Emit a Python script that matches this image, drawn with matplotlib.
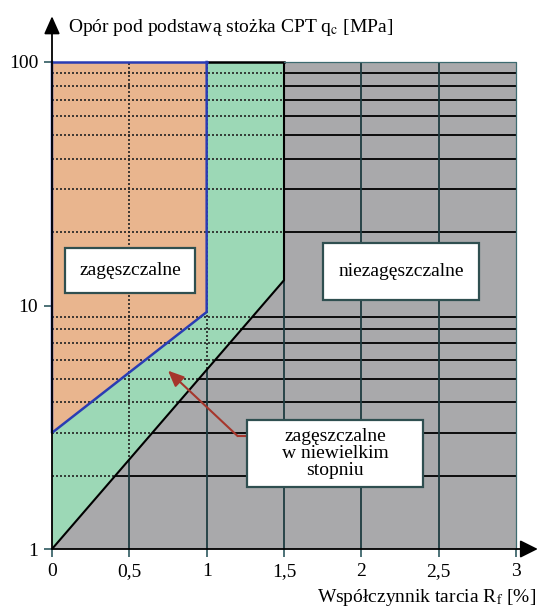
import numpy as np
import matplotlib
matplotlib.use("Agg")
import matplotlib.pyplot as plt
from matplotlib.patches import Polygon, Rectangle

plt.rcParams['font.family'] = ['Liberation Serif', 'DejaVu Serif']
plt.rcParams['mathtext.fontset'] = 'stix'

# axis ticks
rf_ticks = [0, 0.5, 1, 1.5, 2, 2.5, 3]
rf_labels = ['0', '0,5', '1', '1,5', '2', '2,5', '3']
qc_ticks = [1, 10, 100]
qc_labels = ['1', '10', '100']
qc_grid = [2, 3, 4, 5, 6, 7, 8, 9, 20, 30, 40, 50, 60, 70, 80, 90]
rf_grid = [0.5, 1, 1.5, 2, 2.5]

# zone boundaries (Rf [%], qc [MPa])
compact_x = [0, 0, 1, 1]        # upper zone: zagęszczalne
compact_y = [100, 3.0, 9.4, 100]
limit_x = [0, 1.5, 1.5]         # limit of compactable soils
limit_y = [1, 12.7, 100]

# annotation arrow
arrow_tip = (0.75, 5.4)
arrow_tail = (1.20, 2.91)
arrow_end = (1.26, 2.91)

fig = plt.figure(figsize=(5.38, 6.12), dpi=100)
ax = fig.add_axes([52/538, 1-549/612, 464/538, 487/612])
ax.set_yscale('log')
ax.set_xlim(0, 3)
ax.set_ylim(1, 100)

orange = '#e9b58e'
green = '#9cd8b6'
grey = '#a9a9ab'

# zone fills
orange_poly = list(zip(compact_x, compact_y))
green_poly = list(zip(limit_x, limit_y)) + [(1, 100)] + list(zip(compact_x[::-1], compact_y[::-1]))[:-1]
grey_poly = [(0, 1), (3, 1), (3, 100)] + list(zip(limit_x[::-1], limit_y[::-1]))[:-1]

ax.add_patch(Polygon(orange_poly, closed=True, facecolor=orange, edgecolor='none', zorder=0))
ax.add_patch(Polygon(green_poly, closed=True, facecolor=green, edgecolor='none', zorder=0))

# dotted grid in the compactable zones
for v in qc_grid:
    ax.axhline(v, color='#222222', lw=1.2, ls=(0, (1.2, 1.2)), zorder=1)
for v in rf_grid:
    ax.axvline(v, color='#222222', lw=1.2, ls=(0, (1.2, 1.2)), zorder=1)

grey_patch = Polygon(grey_poly, closed=True, facecolor=grey, edgecolor='none', zorder=2)
ax.add_patch(grey_patch)

# solid grid in non-compactable zone
for v in qc_grid:
    ln = ax.axhline(v, color='black', lw=1.3, zorder=3)
    ln.set_clip_path(grey_patch)
for v in rf_grid:
    ln = ax.axvline(v, color='#1e3c40', lw=1.3, zorder=3)
    ln.set_clip_path(grey_patch)

# boundaries
ax.plot(limit_x, limit_y, color='black', lw=1.5, zorder=4)
ax.plot([1, 1.5], [100, 100], color='black', lw=1.8, zorder=4, clip_on=False)
ax.plot(compact_x, compact_y, color='#2a3cb4', lw=1.8, zorder=5, clip_on=False)
ax.plot([0, 1], [100, 100], color='#2a3cb4', lw=1.8, zorder=5, clip_on=False)
ax.plot([1.5, 3, 3], [100, 100, 1], color='#3d6b70', lw=0.9, zorder=4, clip_on=False)

# axes with arrows
for s in ax.spines.values():
    s.set_visible(False)
ax.annotate('', xy=(0, 1.094), xytext=(0, 0), xycoords='axes fraction',
            arrowprops=dict(arrowstyle='-|>,head_length=0.9,head_width=0.4', color='black',
                            lw=1.3, shrinkA=0, shrinkB=0, mutation_scale=12),
            annotation_clip=False, zorder=6)
ax.annotate('', xy=(1.047, 0), xytext=(0, 0), xycoords='axes fraction',
            arrowprops=dict(arrowstyle='-|>,head_length=0.9,head_width=0.45', color='black',
                            lw=1.3, shrinkA=0, shrinkB=0, mutation_scale=12),
            annotation_clip=False, zorder=6)

ax.set_xticks(rf_ticks)
ax.set_xticklabels(rf_labels)
ax.set_yticks(qc_ticks)
ax.set_yticklabels(qc_labels)
ax.yaxis.set_minor_locator(matplotlib.ticker.NullLocator())
ax.tick_params(axis='both', labelsize=14, length=6, width=1.2, color='#2f5a60', pad=4)

# text boxes
boxes = [
    ((0.028, 0.526), 0.280, 0.092, 'zagęszczalne'),
    ((0.584, 0.511), 0.336, 0.117, 'niezagęszczalne'),
    ((0.420, 0.127), 0.380, 0.138, 'zagęszczalne\nw niewielkim\nstopniu'),
]
for (bx, by), bw, bh, label in boxes:
    ax.add_patch(Rectangle((bx, by), bw, bh, transform=ax.transAxes, facecolor='white',
                           edgecolor='#2f4f50', lw=1.6, zorder=7))
    ax.text(bx + bw/2, by + bh/2, label, transform=ax.transAxes, ha='center', va='center',
            fontsize=14, linespacing=1.0, zorder=8)

# arrow to the middle zone
ax.plot([arrow_tail[0], arrow_end[0]], [arrow_tail[1], arrow_end[1]], color='#a6362c', lw=1.5, zorder=6)
ax.annotate('', xy=arrow_tip, xytext=arrow_tail,
            arrowprops=dict(arrowstyle='-|>,head_length=0.8,head_width=0.35', color='#a6362c',
                            lw=1.5, shrinkA=0, shrinkB=0, mutation_scale=12), zorder=6)

fig.text(68/538, 1-28/612, 'Opór pod podstawą stożka CPT q$_\\mathrm{c}$ [MPa]',
         ha='left', va='center', fontsize=14)
fig.text(536/538, 1-598/612, 'Współczynnik tarcia R$_\\mathrm{f}$ [%]',
         ha='right', va='center', fontsize=14)

fig.savefig('out.png', dpi=100)
